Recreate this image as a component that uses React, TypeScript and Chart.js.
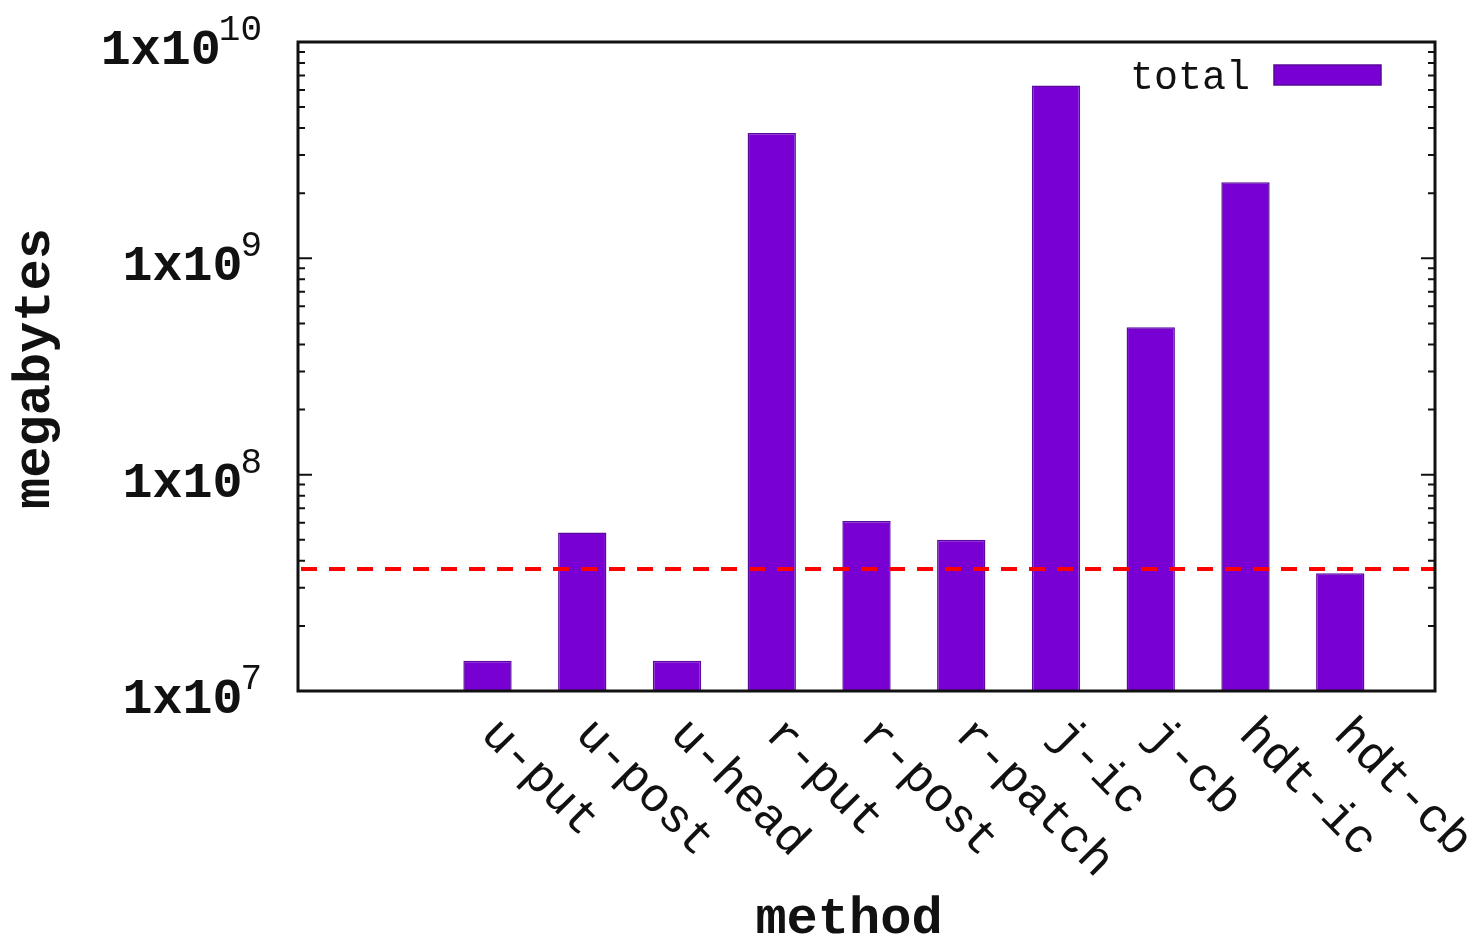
import React, { useEffect, useRef } from "react";
import { Chart, registerables } from "chart.js";

Chart.register(...registerables);

// ---- data ----
const categories = ["u-put", "u-post", "u-head", "r-put", "r-post", "r-patch", "j-ic", "j-cb", "hdt-ic", "hdt-cb"];
const totals = [1.38e7, 5.4e7, 1.38e7, 3.8e9, 6.1e7, 5.0e7, 6.3e9, 4.8e8, 2.25e9, 3.5e7];
const thresholdValue = 3.66e7;
const yTickExponents = [7, 8, 9, 10];
const seriesLabel = "total";
const xTitle = "method";
const yTitle = "megabytes";

// padded slots: x = -1 (left edge), 0 (empty), bars, 11 (right edge)
const slotLabels = ["", "", ...categories, ""];
const slotValues: (number | null)[] = [null, null, ...totals, null];

const BAR_FILL = "#7800d2";
const BAR_BORDER = "#5a0a9c";
const MONO = '"Liberation Mono", "Courier New", "DejaVu Sans Mono", monospace';

const decorPlugin = {
  id: "gnuplotDecor",
  afterDatasetsDraw(chart: any) {
    const { ctx, chartArea: a, scales } = chart;
    const xs = scales.x;
    const ys = scales.y;
    ctx.save();

    // threshold dashed line
    const ty = ys.getPixelForValue(thresholdValue);
    ctx.strokeStyle = "#ff0000";
    ctx.lineWidth = 4;
    ctx.setLineDash([16, 12]);
    ctx.beginPath();
    ctx.moveTo(a.left + 3, ty);
    ctx.lineTo(a.right, ty);
    ctx.stroke();
    ctx.setLineDash([]);

    // frame
    ctx.strokeStyle = "#111111";
    ctx.lineWidth = 3;
    ctx.strokeRect(a.left, a.top, a.right - a.left, a.bottom - a.top);

    // y ticks (major + minor), mirrored
    ctx.lineWidth = 2;
    for (const e of yTickExponents) {
      for (let m = 1; m <= 9; m++) {
        const v = m * Math.pow(10, e);
        if (v > ys.max * 1.0001) break;
        const py = ys.getPixelForValue(v);
        const len = m === 1 ? 14 : 7;
        ctx.beginPath();
        ctx.moveTo(a.left, py);
        ctx.lineTo(a.left + len, py);
        ctx.moveTo(a.right, py);
        ctx.lineTo(a.right - len, py);
        ctx.stroke();
      }
    }

    // y tick labels with superscript exponent
    ctx.fillStyle = "#111111";
    ctx.textBaseline = "alphabetic";
    const labelRight = a.left - 36;
    for (const e of yTickExponents) {
      const py = ys.getPixelForValue(Math.pow(10, e));
      const exp = String(e);
      ctx.font = `36px ${MONO}`;
      ctx.textAlign = "right";
      const supW = ctx.measureText(exp).width;
      ctx.fillText(exp, labelRight, py - 2);
      ctx.font = `bold 50px ${MONO}`;
      ctx.fillText("1x10", labelRight - supW + 2, py + 22);
    }

    // x tick labels rotated
    ctx.font = `48px ${MONO}`;
    ctx.textAlign = "left";
    ctx.textBaseline = "alphabetic";
    categories.forEach((c, i) => {
      const px = xs.getPixelForValue(i + 2);
      ctx.save();
      ctx.translate(px - 8, a.bottom + 45);
      ctx.rotate(Math.PI / 4);
      ctx.fillText(c, 0, 0);
      ctx.restore();
    });

    // axis titles
    ctx.font = `bold 52px ${MONO}`;
    ctx.textAlign = "center";
    ctx.textBaseline = "middle";
    ctx.fillText(xTitle, 849, 920);
    ctx.save();
    ctx.translate(36, (a.top + a.bottom) / 2 + 2);
    ctx.rotate(-Math.PI / 2);
    ctx.fillText(yTitle, 0, 0);
    ctx.restore();

    // legend
    ctx.font = `40px ${MONO}`;
    ctx.textAlign = "right";
    ctx.textBaseline = "alphabetic";
    ctx.fillText(seriesLabel, 1250, 89);
    ctx.fillStyle = BAR_FILL;
    ctx.fillRect(1274, 65, 107, 20);
    ctx.strokeStyle = BAR_BORDER;
    ctx.lineWidth = 1.5;
    ctx.strokeRect(1274, 65, 107, 20);

    ctx.restore();
  },
};

export default function App() {
  const canvasRef = useRef<HTMLCanvasElement | null>(null);

  useEffect(() => {
    if (!canvasRef.current) return;
    const chart = new Chart(canvasRef.current, {
      type: "bar",
      data: {
        labels: slotLabels,
        datasets: [
          {
            label: seriesLabel,
            data: slotValues,
            backgroundColor: BAR_FILL,
            borderColor: BAR_BORDER,
            borderWidth: 1.5,
            categoryPercentage: 1,
            barPercentage: 0.51,
          },
        ],
      },
      options: {
        animation: false,
        responsive: false,
        maintainAspectRatio: false,
        layout: { padding: { left: 298, right: 40, top: 42, bottom: 253 } },
        plugins: {
          legend: { display: false },
          tooltip: { enabled: false },
          title: { display: false },
        },
        scales: {
          x: {
            type: "category",
            display: false,
            offset: false,
            grid: { display: false },
          },
          y: {
            type: "logarithmic",
            display: false,
            min: 1e7,
            max: 1e10,
          },
        },
      },
      plugins: [decorPlugin],
    });
    return () => chart.destroy();
  }, []);

  return (
    <div style={{ position: "absolute", left: 0, top: 0, width: 1475, height: 944, background: "#ffffff" }}>
      <canvas ref={canvasRef} width={1475} height={944} />
    </div>
  );
}
